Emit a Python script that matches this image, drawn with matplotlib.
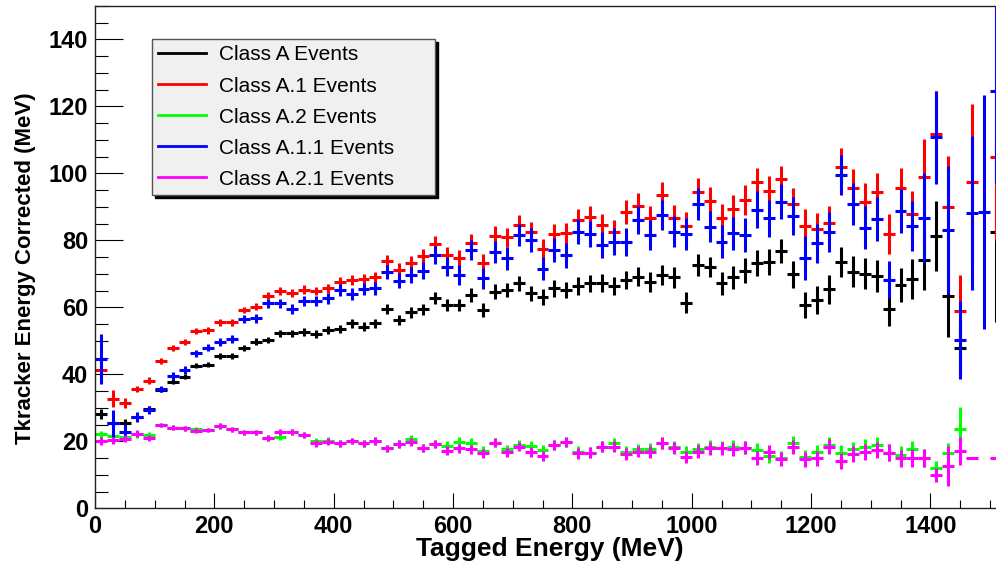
import matplotlib
matplotlib.use('Agg')
import matplotlib.pyplot as plt
import numpy as np
from matplotlib.lines import Line2D
from matplotlib.ticker import MultipleLocator

nan = np.nan

# 20 MeV bins, centres
energy = np.arange(10, 1520, 20)

class_a = [28.1, 25.5, 25.4, 27.3, 29.7, 35.4, 37.8, 39.3, 42.6, 42.9,
           45.5, 45.5, 48.0, 49.8, 50.3, 52.3, 52.3, 52.7, 52.0, 53.3,
           53.6, 55.2, 54.2, 55.2, 59.5, 56.2, 58.5, 59.4, 62.7, 60.7,
           60.7, 63.7, 59.2, 64.7, 65.2, 67.2, 64.2, 63.0, 65.7, 65.2,
           66.4, 67.2, 67.4, 66.4, 68.2, 69.2, 67.7, 69.7, 69.0, 61.4,
           72.7, 72.0, 67.2, 69.0, 71.0, 73.2, 73.6, 76.8, 69.9, 60.7,
           62.2, 65.4, 73.6, 70.7, 70.0, 69.4, 59.4, 66.7, 68.4, 74.1,
           81.4, 63.3, 47.8, nan, nan, 82.5]
class_a_err = [1.5, 1.2, 1.2, 1.0, 1.0, 0.8, 0.8, 0.8, 0.8, 0.8,
               0.9, 0.9, 0.9, 1.0, 1.0, 1.0, 1.0, 1.1, 1.1, 1.2,
               1.2, 1.3, 1.3, 1.3, 1.5, 1.5, 1.6, 1.6, 1.8, 1.8,
               1.8, 2.0, 2.0, 2.2, 2.2, 2.3, 2.3, 2.4, 2.5, 2.5,
               2.6, 2.6, 2.7, 2.8, 2.8, 2.9, 3.0, 3.0, 3.1, 3.2,
               3.3, 3.0, 3.5, 3.5, 3.6, 3.8, 3.8, 3.7, 4.0, 4.0,
               4.2, 4.3, 4.5, 4.5, 4.6, 4.8, 5.0, 5.0, 5.9, 9.0,
               10.5, 12.0, 8.0, nan, nan, 27.0]

class_a1 = [41.3, 32.7, 31.4, 35.6, 38.1, 44.1, 48.0, 49.7, 53.0, 53.1,
            55.5, 55.5, 59.2, 60.2, 63.5, 64.9, 64.4, 65.3, 64.9, 65.7,
            67.7, 68.2, 68.5, 69.0, 73.8, 71.2, 73.2, 75.4, 78.9, 75.6,
            74.6, 79.3, 73.2, 81.4, 80.9, 84.6, 82.6, 77.3, 81.9, 82.1,
            86.1, 87.1, 84.6, 82.6, 88.6, 90.4, 86.6, 93.6, 86.6, 84.4,
            94.5, 91.8, 86.8, 89.3, 92.1, 97.5, 94.7, 98.3, 90.9, 84.4,
            83.3, 85.1, 102.0, 95.7, 91.6, 94.3, 81.9, 95.6, 87.8, 99.0,
            111.7, 89.9, 58.9, 97.3, nan, 105.0]
class_a1_err = [3.0, 2.5, 1.5, 1.0, 1.0, 0.9, 0.9, 0.9, 0.9, 0.9,
                1.0, 1.0, 1.0, 1.1, 1.1, 1.2, 1.2, 1.3, 1.3, 1.4,
                1.5, 1.5, 1.6, 1.7, 1.8, 1.9, 2.0, 2.1, 2.3, 2.3,
                2.4, 2.5, 2.6, 2.8, 2.8, 3.0, 3.0, 3.0, 3.1, 3.2,
                3.3, 3.3, 3.4, 3.5, 3.6, 3.7, 3.8, 3.8, 4.0, 4.0,
                4.0, 4.0, 4.2, 4.3, 4.5, 4.0, 4.6, 4.0, 4.8, 5.0,
                5.0, 5.2, 5.5, 5.5, 5.6, 5.8, 6.0, 6.0, 7.0, 11.4,
                13.0, 15.3, 10.7, 23.3, nan, 25.0]

class_a2 = [22.1, 21.7, 21.4, 22.1, 21.9, 24.9, 24.1, 23.9, 23.6, 23.4,
            24.6, 23.6, 22.7, 22.7, 21.1, 21.4, 22.9, 21.9, 20.1, 20.2,
            19.4, 20.1, 19.4, 20.1, 17.9, 19.2, 20.6, 18.1, 19.2, 18.7,
            19.9, 19.6, 17.2, 19.6, 17.6, 18.9, 18.7, 17.4, 18.9, 19.7,
            16.9, 16.6, 18.4, 19.4, 16.9, 17.6, 17.6, 19.6, 18.4, 16.9,
            17.7, 18.4, 18.1, 18.4, 18.1, 17.4, 15.7, 15.0, 19.4, 15.3,
            16.7, 18.9, 16.6, 17.6, 18.2, 18.9, 16.6, 16.0, 17.6, 15.0,
            12.0, 16.4, 23.6, nan, nan, nan]
class_a2_err = [1.1, 1.0, 1.0, 1.0, 1.0, 0.7, 0.7, 0.7, 0.7, 0.7,
                0.8, 0.8, 0.8, 0.8, 0.9, 0.9, 0.9, 0.9, 1.0, 1.0,
                1.0, 1.0, 1.0, 1.1, 1.1, 1.1, 1.2, 1.2, 1.2, 1.3,
                1.3, 1.3, 1.3, 1.4, 1.4, 1.4, 1.5, 1.5, 1.5, 1.5,
                1.6, 1.6, 1.6, 1.7, 1.7, 1.7, 1.8, 1.8, 1.8, 1.8,
                1.9, 1.9, 1.9, 2.0, 2.0, 2.0, 2.1, 2.1, 2.1, 2.2,
                2.2, 2.3, 2.3, 2.3, 2.4, 2.4, 2.5, 2.5, 2.6, 2.6,
                2.0, 3.0, 6.7, nan, nan, nan]

class_a11 = [44.6, 25.4, 22.7, 27.4, 29.4, 35.6, 39.6, 41.3, 46.3, 48.0,
             49.7, 50.5, 56.5, 56.7, 61.2, 61.2, 59.5, 61.8, 62.0, 62.7,
             65.2, 64.0, 65.5, 65.7, 70.5, 68.0, 69.7, 71.0, 75.6, 72.2,
             69.7, 77.1, 68.7, 76.6, 74.7, 81.6, 80.1, 71.6, 77.1, 75.6,
             82.6, 81.8, 78.6, 79.6, 79.6, 86.1, 81.6, 87.6, 82.6, 81.9,
             90.9, 84.1, 79.6, 82.1, 81.6, 89.1, 86.6, 91.6, 87.3, 74.8,
             79.1, 82.4, 99.5, 90.8, 83.8, 86.4, 68.2, 88.8, 84.4, 86.8,
             110.8, 83.1, 50.3, 88.3, 88.4, 124.7]
class_a11_err = [7.6, 4.0, 2.5, 1.5, 1.2, 1.0, 1.2, 1.1, 1.1, 1.1,
                 1.2, 1.2, 1.2, 1.3, 1.3, 1.4, 1.4, 1.5, 1.5, 1.6,
                 1.7, 1.8, 1.9, 2.0, 2.1, 2.2, 2.4, 2.5, 2.7, 2.8,
                 2.9, 3.0, 3.1, 3.3, 3.4, 3.4, 3.5, 3.5, 3.6, 3.7,
                 3.8, 3.9, 4.0, 4.1, 4.2, 4.3, 4.4, 4.5, 4.6, 4.7,
                 4.8, 4.7, 5.0, 5.0, 5.1, 5.5, 5.5, 5.1, 5.6, 6.5,
                 5.8, 6.0, 6.0, 6.2, 6.4, 6.5, 5.5, 6.5, 7.5, 13.2,
                 13.9, 19.0, 11.6, 23.0, 35.0, 28.0]

class_a21 = [20.0, 20.3, 20.8, 22.3, 21.0, 24.9, 24.1, 23.9, 23.2, 23.4,
             24.6, 23.6, 22.7, 22.7, 20.9, 22.7, 22.9, 21.9, 19.4, 19.9,
             19.4, 20.1, 19.4, 20.1, 17.9, 19.2, 19.9, 18.1, 19.2, 17.2,
             17.9, 17.6, 16.4, 19.6, 16.7, 18.4, 16.7, 15.7, 18.9, 19.7,
             16.4, 16.6, 18.4, 18.4, 16.2, 16.9, 16.7, 19.6, 17.9, 15.4,
             16.9, 17.9, 17.9, 17.6, 18.1, 15.0, 16.7, 14.7, 18.4, 14.7,
             15.0, 18.4, 14.2, 16.2, 16.9, 17.4, 16.6, 15.0, 15.0, 15.0,
             10.0, 12.6, 17.2, 15.0, nan, 15.0]
class_a21_err = [1.2, 1.1, 1.0, 1.0, 1.0, 0.7, 0.7, 0.7, 0.7, 0.7,
                 0.8, 0.8, 0.8, 0.8, 0.9, 0.9, 0.9, 0.9, 1.0, 1.0,
                 1.0, 1.0, 1.0, 1.1, 1.1, 1.1, 1.2, 1.2, 1.2, 1.3,
                 1.3, 1.3, 1.3, 1.4, 1.4, 1.4, 1.5, 1.5, 1.5, 1.5,
                 1.6, 1.6, 1.6, 1.7, 1.7, 1.7, 1.8, 1.8, 1.8, 1.8,
                 1.9, 1.9, 1.9, 2.0, 2.0, 2.0, 2.1, 2.1, 2.1, 2.2,
                 2.2, 2.3, 2.3, 2.3, 2.4, 2.4, 2.5, 2.5, 2.6, 2.6,
                 2.0, 6.0, 4.2, 0.0, nan, 0.0]

labels = ['Class A Events', 'Class A.1 Events', 'Class A.2 Events',
          'Class A.1.1 Events', 'Class A.2.1 Events']
colors = ['#000000', '#ff0000', '#00ff00', '#0000ff', '#ff00ff']
series = [(class_a, class_a_err), (class_a1, class_a1_err),
          (class_a2, class_a2_err), (class_a11, class_a11_err),
          (class_a21, class_a21_err)]

plt.rcParams['font.family'] = ['Liberation Sans', 'DejaVu Sans']

fig = plt.figure(figsize=(9.96, 5.64), dpi=100)
ax = fig.add_axes([0.0954, 0.0986, 0.9046, 0.891])

for (vals, errs), c in zip(series, colors):
    ax.errorbar(energy, vals, yerr=errs, xerr=10, fmt='none', ecolor=c,
                elinewidth=2.2, capsize=0)

ax.set_xlim(0, 1510)
ax.set_ylim(0, 150)

ax.xaxis.set_major_locator(MultipleLocator(200))
ax.xaxis.set_minor_locator(MultipleLocator(50))
ax.yaxis.set_major_locator(MultipleLocator(20))
ax.yaxis.set_minor_locator(MultipleLocator(5))
ax.tick_params(axis='x', which='major', direction='in', length=10.8, width=0.8, pad=5)
ax.tick_params(axis='x', which='minor', direction='in', length=5.8, width=0.8)
ax.tick_params(axis='y', which='major', direction='in', length=20, width=0.8, pad=5)
ax.tick_params(axis='y', which='minor', direction='in', length=9.4, width=0.8)
for lab in ax.get_xticklabels() + ax.get_yticklabels():
    lab.set_fontweight('bold')
    lab.set_fontsize(17)

ax.spines['right'].set_visible(False)
for s in ['left', 'bottom', 'top']:
    ax.spines[s].set_linewidth(1.0)
    ax.spines[s].set_color('#222222')

ax.set_xlabel('Tagged Energy (MeV)', fontsize=19, fontweight='bold')
ax.set_ylabel('Tkracker Energy Corrected (MeV)', fontsize=16, fontweight='bold')
ax.xaxis.set_label_coords(0.505, -0.057)
ax.yaxis.set_label_coords(-0.066, 0.478)

handles = [Line2D([], [], color=c, lw=2) for c in colors]
leg = ax.legend(handles, labels, loc='upper left',
                bbox_to_anchor=(0.0633, 0.6257, 0.3141, 0.308), mode='expand',
                borderaxespad=0, fontsize=15, frameon=True, fancybox=False,
                shadow={'color': 'black', 'alpha': 1}, handlelength=2.3,
                handletextpad=0.6, labelspacing=0.58, borderpad=0.3)
leg.get_frame().set_facecolor('#f0f0f0')
leg.get_frame().set_edgecolor('#555555')
leg.get_frame().set_linewidth(1.0)
leg.get_frame().set_alpha(1)

plt.savefig('out.png', dpi=100)
plt.close()
